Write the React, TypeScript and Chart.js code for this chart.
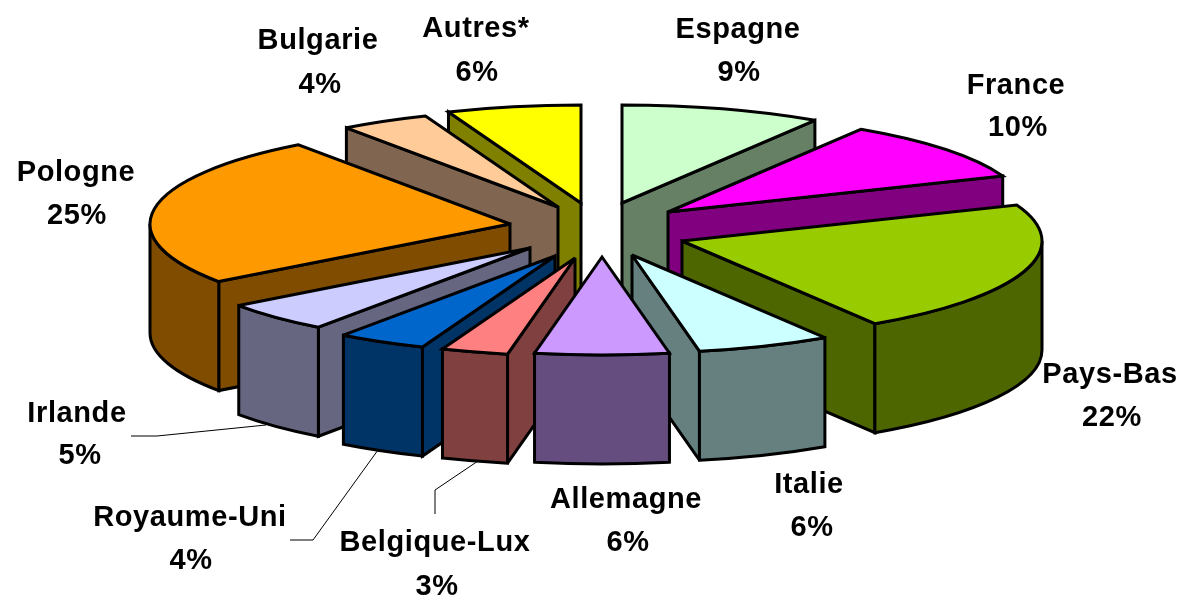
import React, { useEffect, useRef } from "react";
import { Chart, registerables } from "chart.js";

Chart.register(...registerables);

const categories = ["Espagne", "France", "Pays-Bas", "Italie", "Allemagne", "Belgique-Lux", "Royaume-Uni", "Irlande", "Pologne", "Bulgarie", "Autres*"];
const shares = [9, 10, 22, 6, 6, 3, 4, 5, 25, 4, 6];
const topColors = ["#CCFFCC", "#FF00FF", "#99CC00", "#CCFFFF", "#CC99FF", "#FF8080", "#0066CC", "#CCCCFF", "#FF9900", "#FFCC99", "#FFFF00"];
const wallColors = ["#668066", "#800080", "#4D6600", "#668080", "#664D80", "#804040", "#003366", "#666680", "#804D00", "#806650", "#808000"];
const explodeAcross = [20, 66, 80, 30, 0, -27, -47, -72, -92, -44, -21];
const explodeDown = [-25, -16, 13, 27, 29, 30, 28, 20, -4, -21, -25];
const drawOrder = [0, 10, 1, 9, 8, 2, 7, 3, 6, 5, 4];

const labelPlaces = [
  [738, 30, 739, 73], [1016, 86, 1018, 128], [1110, 375, 1112, 418], [809, 485, 812, 528],
  [626, 500, 628, 543], [435, 543, 437, 587], [190, 518, 191, 561], [77, 414, 80, 456],
  [76, 173, 77, 216], [318, 41, 320, 85], [476, 29, 477, 73],
];
const leaders = [
  [[131, 436], [157, 436], [266, 425]],
  [[290, 540], [313, 540], [378, 450]],
  [[435, 514], [435, 490], [478, 461]],
];

const CX = 602, CY = 228, SQUASH = 0.272, DEPTH = 109, RADIUS = 360;

const piePlugin = {
  id: "tiltedPie",
  beforeDatasetsDraw(chart: any) {
    const ctx = chart.ctx as CanvasRenderingContext2D;
    const arcs = chart.getDatasetMeta(0).data as any[];
    ctx.lineWidth = 3;
    ctx.lineJoin = "miter";
    ctx.miterLimit = 3;
    ctx.strokeStyle = "#000";
    for (const i of drawOrder) {
      const arc = arcs[i];
      const a0 = arc.startAngle, a1 = arc.endAngle, R = arc.outerRadius;
      const ox = CX + explodeAcross[i];
      const oy = CY + explodeDown[i];
      const px = (a: number) => ox + R * Math.cos(a);
      const py = (a: number) => oy + R * SQUASH * Math.sin(a);
      const quad = (x1: number, y1: number, x2: number, y2: number) => {
        ctx.beginPath();
        ctx.moveTo(x1, y1);
        ctx.lineTo(x2, y2);
        ctx.lineTo(x2, y2 + DEPTH);
        ctx.lineTo(x1, y1 + DEPTH);
        ctx.closePath();
        ctx.fillStyle = wallColors[i];
        ctx.fill();
        ctx.stroke();
      };
      if (Math.cos(a0) < 0) quad(ox, oy, px(a0), py(a0));
      if (Math.cos(a1) > 0) quad(ox, oy, px(a1), py(a1));
      const w0 = Math.max(a0, 0), w1 = Math.min(a1, Math.PI);
      if (w1 > w0) {
        ctx.beginPath();
        ctx.ellipse(ox, oy, R, R * SQUASH, 0, w0, w1);
        ctx.ellipse(ox, oy + DEPTH, R, R * SQUASH, 0, w1, w0, true);
        ctx.closePath();
        ctx.fillStyle = wallColors[i];
        ctx.fill();
        ctx.stroke();
      }
      ctx.save();
      ctx.translate(ox, oy);
      ctx.scale(1, SQUASH);
      ctx.translate(-arc.x, -arc.y);
      arc.draw(ctx);
      ctx.restore();
      ctx.beginPath();
      ctx.moveTo(ox, oy);
      ctx.ellipse(ox, oy, R, R * SQUASH, 0, a0, a1);
      ctx.closePath();
      ctx.stroke();
    }
    return false;
  },
  afterDraw(chart: any) {
    const ctx = chart.ctx as CanvasRenderingContext2D;
    ctx.save();
    ctx.strokeStyle = "#000";
    ctx.lineWidth = 1;
    for (const line of leaders) {
      ctx.beginPath();
      line.forEach(([x, y], k) => (k ? ctx.lineTo(x, y) : ctx.moveTo(x, y)));
      ctx.stroke();
    }
    ctx.fillStyle = "#000";
    ctx.font = 'bold 29px "Liberation Sans"';
    (ctx as any).letterSpacing = "0.6px";
    ctx.textAlign = "center";
    ctx.textBaseline = "middle";
    categories.forEach((name, i) => {
      const [x1, y1, x2, y2] = labelPlaces[i];
      ctx.fillText(name, x1, y1);
      ctx.fillText(`${shares[i]}%`, x2, y2);
    });
    ctx.restore();
  },
};

export default function App() {
  const ref = useRef<HTMLCanvasElement>(null);
  useEffect(() => {
    document.body.style.margin = "0";
    const chart = new Chart(ref.current as HTMLCanvasElement, {
      type: "pie",
      data: {
        labels: categories,
        datasets: [{ data: shares, backgroundColor: topColors, borderWidth: 0 }],
      },
      options: {
        animation: false,
        responsive: false,
        events: [],
        radius: RADIUS,
        plugins: { legend: { display: false }, tooltip: { enabled: false } },
      } as any,
      plugins: [piePlugin as any],
    });
    return () => chart.destroy();
  }, []);
  return <canvas ref={ref} width={1180} height={599} style={{ display: "block" }} />;
}
